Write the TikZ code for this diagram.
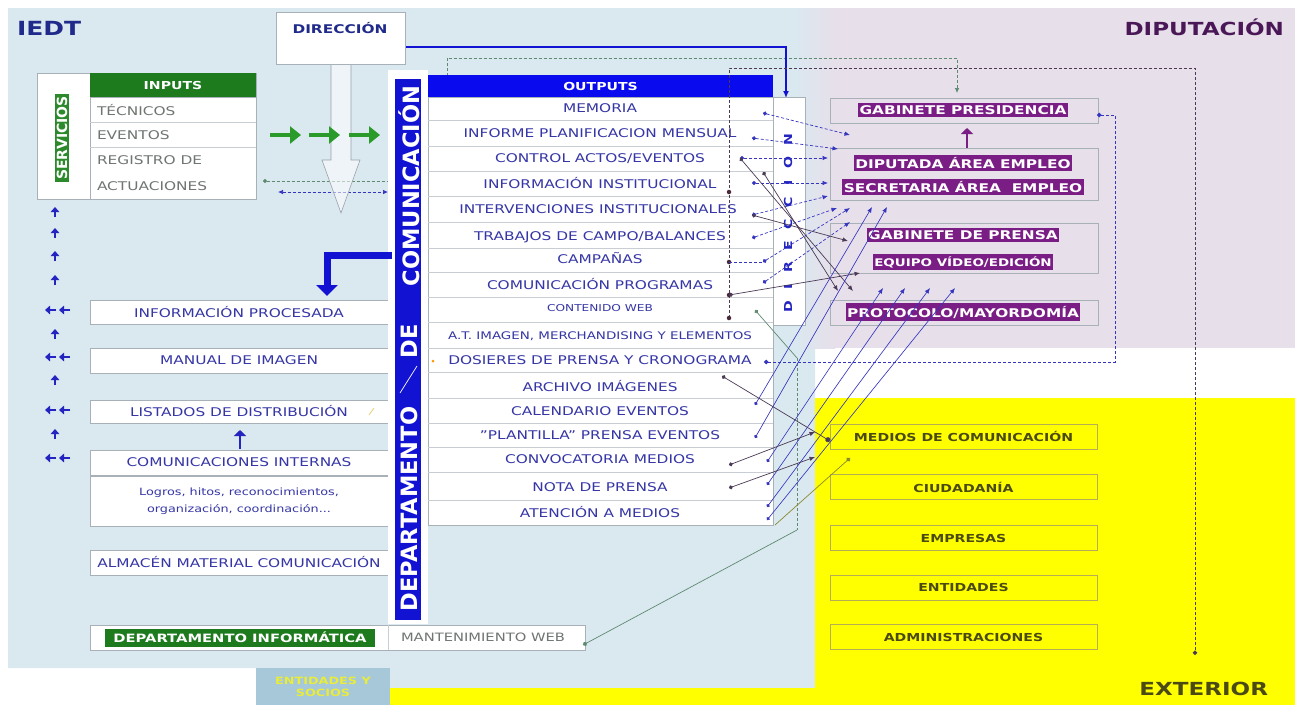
\documentclass[tikz,border=0pt]{standalone}
\usepackage{fontspec}
\setmainfont{DejaVu Sans}[FakeStretch=1.28]
\newfontfamily\rotfont{DejaVu Sans}
\usetikzlibrary{arrows.meta,calc}
\definecolor{iedtbg}{HTML}{DAE8F0}
\definecolor{dipbg}{HTML}{E7DFEA}
\definecolor{yel}{HTML}{FFFF00}
\definecolor{boxgray}{HTML}{A9B1B8}
\definecolor{sepgray}{HTML}{C9CED4}
\definecolor{txtblue}{HTML}{3636A6}
\definecolor{navy}{HTML}{1F2A8A}
\definecolor{ingreen}{HTML}{1D7A1D}
\definecolor{servgreen}{HTML}{2C8A2C}
\definecolor{arrgreen}{HTML}{2A9A2A}
\definecolor{barblue}{HTML}{1212D2}
\definecolor{outblue}{HTML}{0A0AEE}
\definecolor{dirblue}{HTML}{2424C0}
\definecolor{purp}{HTML}{7A1E86}
\definecolor{purptxt}{HTML}{4B1857}
\definecolor{olive}{HTML}{4A4A12}
\definecolor{ylborder}{HTML}{B5AE55}
\definecolor{graytxt}{HTML}{6F7570}
\definecolor{lineblue}{HTML}{3535C0}
\definecolor{darkline}{HTML}{4A3A55}
\definecolor{darkdot}{HTML}{4A2A3A}
\definecolor{socbg}{HTML}{A6C8D8}
\definecolor{socyel}{HTML}{E9EC3A}
\definecolor{webline}{HTML}{5E8A70}
\definecolor{arrgray}{HTML}{9AA2AA}
\definecolor{medline}{HTML}{8A8A30}
\begin{document}
\begin{tikzpicture}[x=1pt,y=-1pt,
  every node/.style={inner sep=0pt,outer sep=0pt},
  wbox/.style={draw=boxgray,fill=white,line width=0.6pt},
  ltxt/.style={text=txtblue,font=\fontsize{12}{14}\selectfont},
  gtxt/.style={text=graytxt,font=\fontsize{12}{14}\selectfont,anchor=west},
  hdr/.style={text=white,font=\bfseries\fontsize{11}{13}\selectfont},
  plab/.style={fill=purp,text=white,font=\bfseries\fontsize{12}{14}\selectfont,inner xsep=1.5pt,inner ysep=2.5pt},
  dbox/.style={draw=boxgray,line width=0.5pt,minimum width=268pt},
  ybox/.style={draw=ylborder,line width=0.7pt,text=olive,font=\bfseries\fontsize{11}{13}\selectfont,minimum width=267pt,minimum height=25pt},
  sep/.style={draw=sepgray,line width=0.5pt},
  conn/.style={lineblue,line width=0.7pt,densely dashed,{Circle[length=4pt]}-{Latex[length=5.5pt,width=4.5pt]}},
  dconn/.style={darkline,line width=0.7pt,{Circle[length=4pt]}-{Latex[length=5.5pt,width=4.5pt]}},
  lconn/.style={lineblue,line width=0.65pt,{Circle[length=3.5pt]}-{Latex[length=5.5pt,width=4.5pt]}},
  smallar/.style={dirblue,line width=2pt,-{Triangle[length=5pt,width=8.5pt]}},
  garrow/.style={arrgreen,line width=4.5pt,-{Triangle[length=11pt,width=17pt]}},
  vdot/.style={circle,fill=darkdot,minimum size=4.5pt},
]
\useasboundingbox (0,0) rectangle (1301,705);
\fill[white] (0,0) rectangle (1301,705);
% ---------- regions
\fill[iedtbg] (8,8) -- (815,8) -- (815,688) -- (390,688) -- (390,668) -- (8,668) -- cycle;
\fill[dipbg] (815,8) rectangle (1295,348);
\shade[left color=iedtbg,right color=dipbg] (795,8) rectangle (835,348);
\fill[yel] (815,398) rectangle (1295,705);
\fill[yel] (390,688) rectangle (815,705);
\node[font=\bfseries\fontsize{19.5}{21}\selectfont,text=navy,anchor=west] (iedt) at (17,28) {IEDT};
\node[font=\bfseries\fontsize{18}{20}\selectfont,text=purptxt,anchor=east] (diput) at (1284,27) {DIPUTACIÓN};
\node[font=\bfseries\fontsize{18}{20}\selectfont,text=olive,anchor=east] (exter) at (1268,689) {EXTERIOR};

% ---------- dashed connectors behind boxes
\coordinate (gs) at (263,181);
\coordinate (gc1) at (447,181);
\coordinate (gc2) at (447,58);
\coordinate (gc3) at (957,58);
\coordinate (ge) at (957,93);
\draw[webline,line width=0.7pt,densely dashed,{Circle[length=4pt]}-{Latex[length=5pt,width=4.5pt]}] (gs) -- (gc1) -- (gc2) -- (gc3) -- (ge);
\coordinate (da) at (278,192);
\coordinate (db) at (388,192);
\draw[lineblue,line width=0.7pt,densely dashed,{Latex[length=5pt,width=4.5pt]}-{Latex[length=5pt,width=4.5pt]}] (da) -- (db);

% ---------- SERVICIOS / INPUTS
\node[wbox,minimum width=219pt,minimum height=126pt] (serv) at (146.5,136) {};
\node[fill=servgreen,rotate=90,text=white,font=\rotfont\bfseries\fontsize{14}{14}\selectfont,inner xsep=2pt,inner ysep=1.5pt] (servl) at (62,138) {SERVICIOS};
\node[wbox,minimum width=166pt,minimum height=102pt] (intab) at (173,148) {};
\node[fill=ingreen,minimum width=166pt,minimum height=24pt,hdr] (inhdr) at (173,85) {INPUTS};
\draw[sep] (90,122) -- (256,122);
\draw[sep] (90,147) -- (256,147);
\node[gtxt] (i1) at (97,110) {TÉCNICOS};
\node[gtxt] (i2) at (97,135) {EVENTOS};
\node[gtxt] (i3) at (97,160) {REGISTRO DE};
\node[gtxt] (i4) at (97,186) {ACTUACIONES};

% ---------- DIRECCION box + hollow arrow
\fill[white,fill opacity=0.55] (331,60) -- (331,160) -- (322,160) -- (341,213) -- (360,160) -- (351,160) -- (351,60) -- cycle;
\draw[arrgray,line width=0.6pt] (331,60) -- (331,160) -- (322,160) -- (341,213) -- (360,160) -- (351,160) -- (351,60);
\node[wbox,minimum width=129pt,minimum height=52pt] (dirbox) at (340.5,38) {};
\node[font=\bfseries\fontsize{12}{14}\selectfont,text=navy] (dirtxt) at (340,28) {DIRECCIÓN};
\coordinate (dirout) at (406,47);
\coordinate (dirin) at (786,98);
\draw[barblue,line width=1.8pt,-{Latex[length=7pt,width=6pt]}] (dirout) -| (dirin);
\foreach \i/\a/\b in {1/270/301,2/309/340,3/349/380}{
  \coordinate (ga\i) at (\a,135); \coordinate (gb\i) at (\b,135);
  \draw[garrow] (ga\i) -- (gb\i);
}

% ---------- left column arrows
\foreach \k/\yy in {1/212,2/233,3/256,4/280,5/334,6/380,7/434}{
  \coordinate (ua\k) at (55,\yy+5); \coordinate (ub\k) at (55,\yy-5);
  \draw[smallar] (ua\k) -- (ub\k);
}
\foreach \k/\yy in {1/310,2/357,3/410,4/458}{
  \coordinate (la\k) at (56,\yy); \coordinate (lb\k) at (45,\yy);
  \coordinate (lc\k) at (70,\yy); \coordinate (ld\k) at (59,\yy);
  \draw[smallar] (la\k) -- (lb\k);
  \draw[smallar] (lc\k) -- (ld\k);
}

% ---------- left boxes
\node[wbox,minimum width=298pt,minimum height=24pt,ltxt] (infproc) at (239,312) {INFORMACIÓN PROCESADA};
\node[wbox,minimum width=298pt,minimum height=25pt,ltxt] (manual) at (239,360.5) {MANUAL DE IMAGEN};
\node[wbox,minimum width=298pt,minimum height=23pt,ltxt] (listados) at (239,411.5) {LISTADOS DE DISTRIBUCIÓN};
\draw[color={rgb,255:red,226;green,210;blue,120},line width=0.8pt] (369,415) -- (374,408);
\coordinate (cia) at (240,449);
\coordinate (cib) at (240,430);
\draw[dirblue,line width=2.6pt,-{Triangle[length=6pt,width=12pt]}] (cia) -- (cib);
\node[wbox,minimum width=298pt,minimum height=25pt,ltxt] (comint) at (239,462.5) {COMUNICACIONES INTERNAS};
\node[wbox,minimum width=298pt,minimum height=50pt,text=txtblue,font=\fontsize{10}{16.5}\selectfont,align=center] (logros) at (239,501) {Logros, hitos, reconocimientos,\\organización, coordinación...};
\node[wbox,minimum width=298pt,minimum height=25pt,ltxt] (almacen) at (239,562.5) {ALMACÉN MATERIAL COMUNICACIÓN};
\node[wbox,minimum width=495pt,minimum height=25pt] (informrow) at (337.5,637.5) {};
\node[fill=ingreen,minimum width=270pt,minimum height=18pt,text=white,font=\bfseries\fontsize{11.5}{13}\selectfont] (depinf) at (240,637.5) {DEPARTAMENTO INFORMÁTICA};
\draw[sep] (388,625) -- (388,650);
\node[text=graytxt,font=\fontsize{11.5}{13}\selectfont] (mantweb) at (483,637.5) {MANTENIMIENTO WEB};

% ---------- department column
\node[fill=white,minimum width=40pt,minimum height=554pt] (deptcol) at (408,347) {};
\node[fill=barblue,minimum width=26pt,minimum height=541pt] (deptbar) at (408,349.5) {};
\node[rotate=90,text=white,font=\rotfont\bfseries\fontsize{22.5}{23}\selectfont] (dcom) at (409,186) {COMUNICACIÓN};
\node[rotate=90,text=white,font=\rotfont\bfseries\fontsize{22.5}{23}\selectfont] (dde) at (409,341) {DE};
\node[rotate=90,text=white,font=\rotfont\bfseries\fontsize{22.5}{23}\selectfont] (ddep) at (409,509) {DEPARTAMENTO};
\draw[white,line width=0.7pt] (400,393) -- (417,366);
\coordinate (la) at (392,255);
\coordinate (lm) at (327,255);
\coordinate (lb) at (327,296);
\draw[barblue,line width=7pt,line join=miter,-{Triangle[length=11pt,width=21pt]}] (la) -- (lm) -- (lb);

% ---------- OUTPUTS table
\node[wbox,minimum width=345pt,minimum height=428pt] (outtab) at (600.5,311) {};
\node[fill=outblue,minimum width=345pt,minimum height=22pt,hdr] (outhdr) at (600.5,86) {OUTPUTS};
\foreach \yy in {120,146,171,196,222,248,272,297,322,348,372,398,423,447,472,500}{
  \draw[sep] (428,\yy) -- (773,\yy);
}
\node[ltxt] (o1) at (600,108.5) {MEMORIA};
\node[ltxt] (o2) at (600,133) {INFORME PLANIFICACION MENSUAL};
\node[ltxt] (o3) at (600,158.5) {CONTROL ACTOS/EVENTOS};
\node[ltxt] (o4) at (600,183.5) {INFORMACIÓN INSTITUCIONAL};
\node[ltxt] (o5) at (598,209) {INTERVENCIONES INSTITUCIONALES};
\node[ltxt] (o6) at (600,237) {TRABAJOS DE CAMPO/BALANCES};
\node[ltxt] (o7) at (600,258) {CAMPAÑAS};
\node[ltxt] (o8) at (600,284.5) {COMUNICACIÓN PROGRAMAS};
\node[text=txtblue,font=\fontsize{9.5}{11}\selectfont] (o9) at (600,308) {CONTENIDO WEB};
\node[text=txtblue,font=\fontsize{10.5}{12}\selectfont] (o10) at (600,336) {A.T. IMAGEN, MERCHANDISING Y ELEMENTOS};
\node[ltxt] (o11) at (600,360) {DOSIERES DE PRENSA Y CRONOGRAMA};
\node[ltxt] (o12) at (600,386) {ARCHIVO IMÁGENES};
\node[ltxt] (o13) at (600,411) {CALENDARIO EVENTOS};
\node[ltxt] (o14) at (600,435) {"PLANTILLA" PRENSA EVENTOS};
\node[ltxt] (o15) at (600,459) {CONVOCATORIA MEDIOS};
\node[ltxt] (o16) at (600,487) {NOTA DE PRENSA};
\node[ltxt] (o17) at (600,512) {ATENCIÓN A MEDIOS};
\node[circle,fill=orange!80!yellow,minimum size=3pt] (odot) at (433,361) {};

% ---------- DIRECCION column
\node[fill=white,draw=boxgray,line width=0.5pt,minimum width=32pt,minimum height=228pt] (dircol) at (789,211) {};
\node[rotate=90,text=dirblue,font=\bfseries\fontsize{11}{13}\selectfont] (dirv) at (788,223) {D\hspace{11.5pt}I\hspace{11.5pt}R\hspace{11.5pt}E\hspace{11.5pt}C\hspace{11.5pt}C\hspace{11.5pt}I\hspace{11.5pt}O\hspace{11.5pt}N};

% ---------- DIPUTACION boxes
\node[dbox,minimum height=25pt] (gpbox) at (964,110.5) {};
\node[plab] (gp) at (963,110) {GABINETE PRESIDENCIA};
\coordinate (pua) at (967,149);
\coordinate (pub) at (967,128);
\draw[purp,line width=2.6pt,-{Triangle[length=6pt,width=12pt]}] (pua) -- (pub);
\node[dbox,minimum height=52pt] (dipbox) at (964,174) {};
\node[plab] (dip) at (963,163) {DIPUTADA ÁREA EMPLEO};
\node[plab] (sec) at (963,187) {SECRETARIA ÁREA\ \ EMPLEO};
\node[dbox,minimum height=50pt] (prbox) at (964,248) {};
\node[plab] (gpr) at (963,235) {GABINETE DE PRENSA};
\node[plab,font=\bfseries\fontsize{10.5}{12}\selectfont] (eqv) at (963,262) {EQUIPO VÍDEO/EDICIÓN};
\node[dbox,minimum height=25pt] (protbox) at (964,312.5) {};
\node[plab] (prot) at (963,312) {PROTOCOLO/MAYORDOMÍA};

% ---------- EXTERIOR boxes
\node[ybox] (medios) at (963.5,436.5) {MEDIOS DE COMUNICACIÓN};
\node[ybox] (ciud) at (963.5,487) {CIUDADANÍA};
\node[ybox] (empr) at (963.5,538) {EMPRESAS};
\node[ybox] (entid) at (963.5,587.5) {ENTIDADES};
\node[ybox] (admin) at (963.5,637) {ADMINISTRACIONES};
\node[fill=socbg,minimum width=134pt,minimum height=37pt,text=socyel,font=\bfseries\fontsize{10}{12}\selectfont,align=center] (socios) at (323,686.5) {ENTIDADES Y\\SOCIOS};

% ---------- exterior long dashed line via x=729
\coordinate (xa) at (729,318);
\coordinate (xb) at (729,68);
\coordinate (xc) at (1195,68);
\coordinate (xd) at (1195,655);
\draw[darkline,line width=0.65pt,densely dashed,-{Circle[length=4.5pt]}] (xa) -- (xb) -- (xc) -- (xd);
\foreach \k/\yy in {1/192,2/262,3/295,4/318}{ \node[vdot] (vd\k) at (729,\yy) {}; }

% ---------- dosieres <-> gabinete presidencia
\coordinate (dsa) at (764,362);
\coordinate (dsb) at (1115,362);
\coordinate (dsc) at (1115,115);
\coordinate (dsd) at (1097,115);
\draw[lineblue,line width=0.65pt,densely dashed,{Circle[length=4.5pt]}-{Circle[length=4.5pt]}] (dsa) -- (dsb) -- (dsc) -- (dsd);

% ---------- contenido web <-> mantenimiento web
\coordinate (wa) at (755,310);
\coordinate (wb) at (797,358);
\coordinate (wc) at (797,530);
\coordinate (wd) at (583,645);
\draw[webline,line width=0.7pt,{Circle[length=4pt]}-] (wa) -- (wb);
\draw[webline,line width=0.7pt,densely dashed] (wb) -- (wc);
\draw[webline,line width=0.7pt,-{Circle[length=4.5pt]}] (wc) -- (wd);

% ---------- top connectors (outputs -> diputacion)
\foreach \i/\ax/\ay/\bx/\by in {1/763/113/850/135, 2/752/138/838/149, 3/740/158/828/158, 4/752/183/828/183, 5/752/215/828/196, 6/752/238/837/208, 8/763/283/850/222}{
  \coordinate (ts\i) at (\ax,\ay); \coordinate (te\i) at (\bx,\by);
  \draw[conn] (ts\i) -- (te\i);
}
\coordinate (ts7) at (729,262);
\coordinate (tm7) at (763,262);
\coordinate (te7) at (850,208);
\draw[lineblue,line width=0.7pt,densely dashed] (ts7) -- (tm7);
\draw[conn] (tm7) -- (te7);
\foreach \i/\ax/\ay/\bx/\by in {1/740/158/853/291, 2/763/172/838/291, 3/752/215/848/241, 4/729/295/860/273}{
  \coordinate (ds\i) at (\ax,\ay); \coordinate (de\i) at (\bx,\by);
  \draw[dconn] (ds\i) -- (de\i);
}
% lower outputs -> diputacion
\foreach \i/\ax/\ay/\bx/\by in {1/755/405/872/207, 2/755/438/887/207, 3/767/462/883/288, 4/767/485/905/288, 5/767/507/930/288, 6/767/520/955/288}{
  \coordinate (ls\i) at (\ax,\ay); \coordinate (le\i) at (\bx,\by);
  \draw[lconn] (ls\i) -- (le\i);
}
% outputs -> medios
\coordinate (ma1) at (722,376);
\coordinate (mb1) at (830,441);
\draw[darkline,line width=0.7pt,{Circle[length=4pt]}-{Circle[length=5pt]}] (ma1) -- (mb1);
\foreach \i/\ax/\ay/\bx/\by in {2/729/465/815/432, 3/729/488/815/457}{
  \coordinate (ma\i) at (\ax,\ay); \coordinate (mb\i) at (\bx,\by);
  \draw[dconn] (ma\i) -- (mb\i);
}
\coordinate (ma4) at (775,525);
\coordinate (mb4) at (850,458);
\draw[medline,line width=0.7pt,-{Circle[length=4.5pt]}] (ma4) -- (mb4);
\end{tikzpicture}
\end{document}
